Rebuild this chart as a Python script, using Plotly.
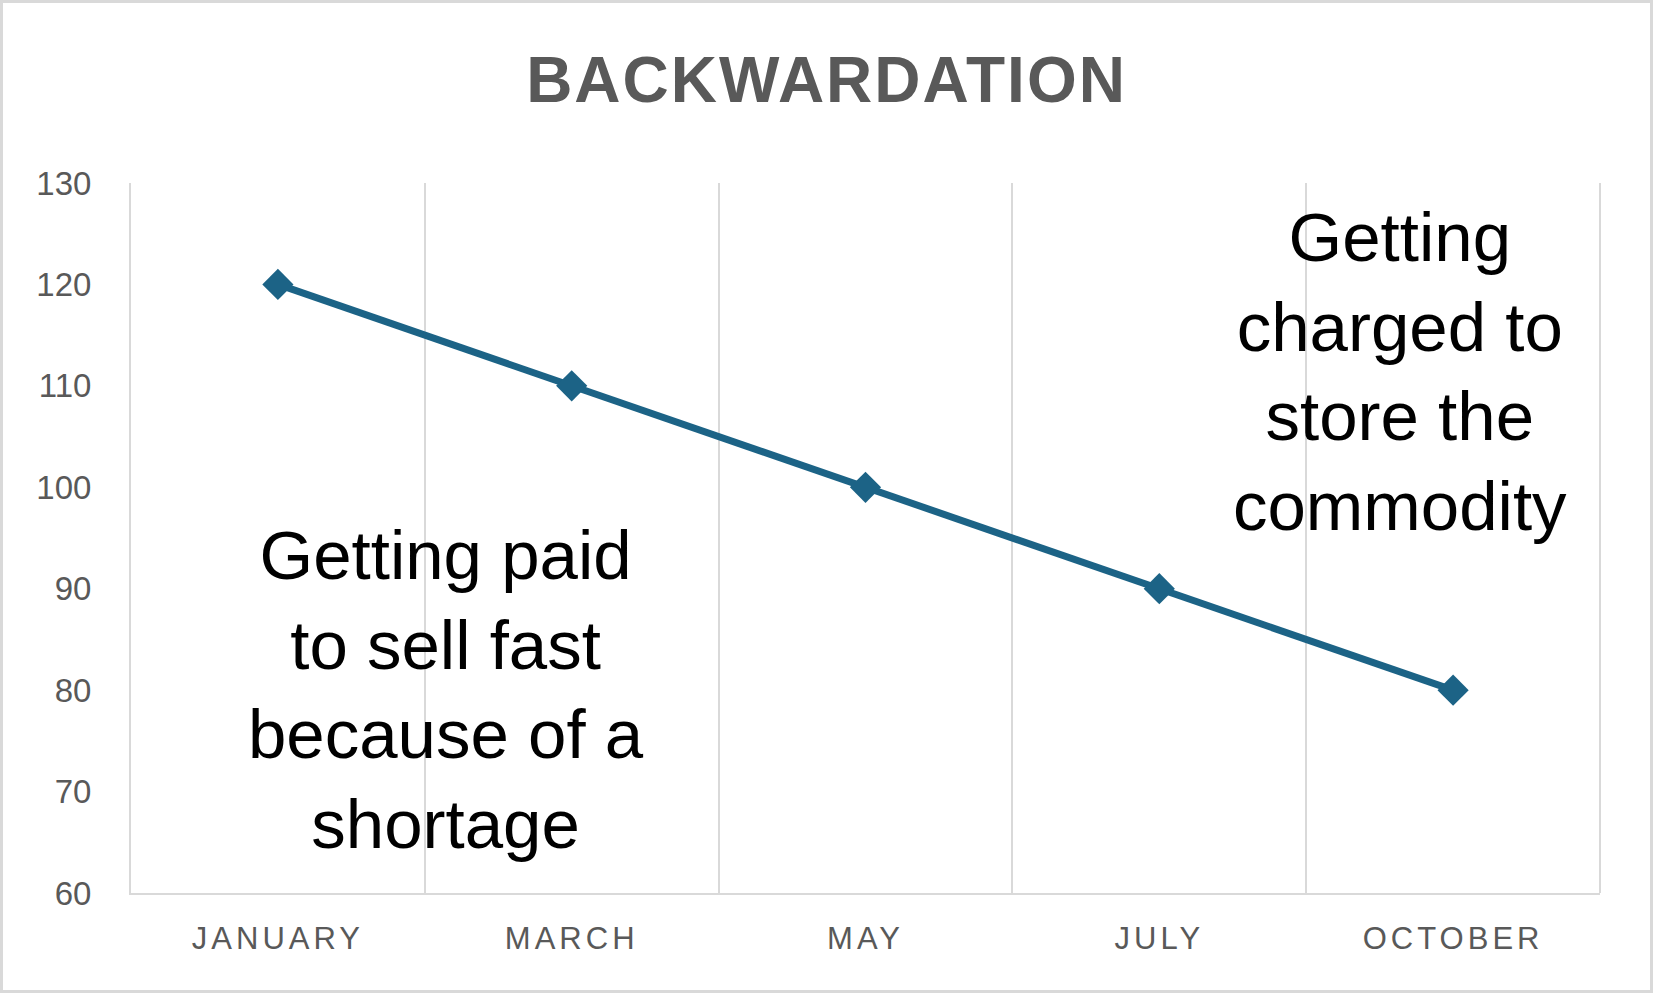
import plotly.graph_objects as go

months = ["JANUARY", "MARCH", "MAY", "JULY", "OCTOBER"]
prices = [120, 110, 100, 90, 80]
y_ticks = [60, 70, 80, 90, 100, 110, 120, 130]
title_text = "BACKWARDATION"
left_note = "Getting paid<br>to sell fast<br>because of a<br>shortage"
right_note = "Getting<br>charged to<br>store the<br>commodity"

W, H = 1653, 993
ML, MR, MT, MB = 131, 53, 183, 100
PW, PH = W - ML - MR, H - MT - MB

GRID = "#d9d9d9"
TXT = "#595959"
LINE = "#1c6386"
FONT = "Liberation Sans, Arial, sans-serif"

month_labels = ['<span style="letter-spacing:4px">%s</span>' % m for m in months]

fig = go.Figure()
fig.add_trace(go.Scatter(
    x=months, y=prices, mode="lines+markers",
    line=dict(color=LINE, width=7),
    marker=dict(symbol="diamond", size=24, color=LINE),
    showlegend=False, hoverinfo="skip",
))

fig.update_layout(
    width=W, height=H,
    margin=dict(l=ML, r=MR, t=MT, b=MB),
    paper_bgcolor="white", plot_bgcolor="white",
    title=dict(text='<span style="letter-spacing:2px">%s</span>' % title_text,
               x=0.5, xanchor="center", y=1 - 80 / H, yanchor="middle",
               font=dict(family=FONT, size=64, color=TXT, weight="bold")),
    xaxis=dict(type="category", tickson="boundaries", showgrid=True, gridcolor=GRID, gridwidth=2,
               showline=True, linecolor=GRID, linewidth=2, ticks="", zeroline=False,
               range=[-0.5, 4.5], tickvals=months, ticktext=month_labels,
               tickfont=dict(family=FONT, size=31, color=TXT), ticklabelstandoff=17),
    yaxis=dict(range=[60, 130], tickvals=y_ticks, showgrid=False, showline=True,
               linecolor=GRID, linewidth=2, ticks="", zeroline=False,
               tickfont=dict(family=FONT, size=33, color=TXT), ticklabelstandoff=31),
)

# right edge gridline and outer border
fig.add_shape(type="line", xref="paper", yref="paper", x0=1, x1=1, y0=0, y1=1,
              line=dict(color=GRID, width=2))
fig.add_shape(type="rect", xref="paper", yref="paper",
              x0=(1.5 - ML) / PW, x1=(W - 1.5 - ML) / PW,
              y0=(PH + MT - (H - 1.5)) / PH, y1=(PH + MT - 1.5) / PH,
              line=dict(color=GRID, width=3), layer="below")

fig.add_annotation(text=left_note, xref="paper", yref="paper",
                   x=(446 - ML) / PW, y=(MT + PH - 690) / PH, xanchor="center", yanchor="middle",
                   showarrow=False, align="center",
                   font=dict(family=FONT, size=69, color="black"))
fig.add_annotation(text=right_note, xref="paper", yref="paper",
                   x=(1400 - ML) / PW, y=(MT + PH - 372) / PH, xanchor="center", yanchor="middle",
                   showarrow=False, align="center",
                   font=dict(family=FONT, size=69, color="black"))

fig.write_html("out.html")
